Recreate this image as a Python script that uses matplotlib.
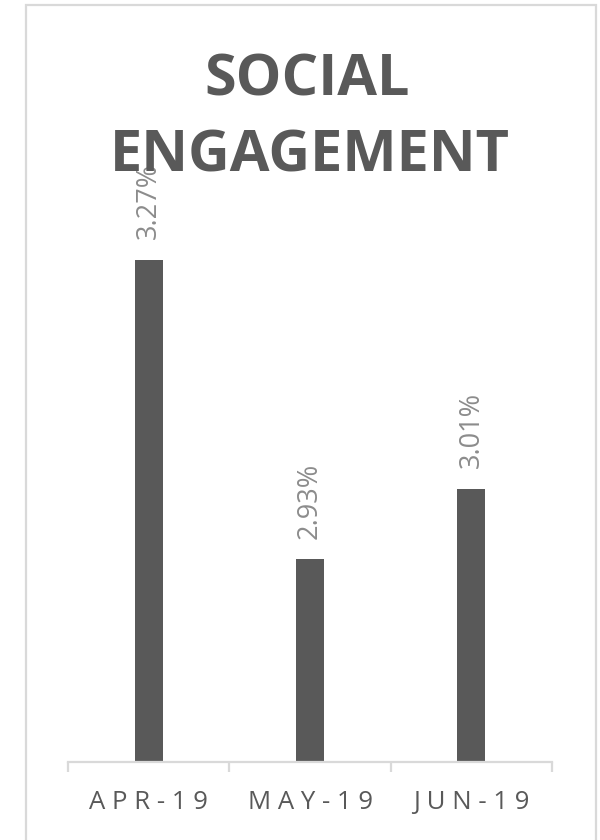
import matplotlib.pyplot as plt
from matplotlib.patches import Rectangle

months = ["APR-19", "MAY-19", "JUN-19"]
engagement = [3.27, 2.93, 3.01]
value_labels = ["3.27%", "2.93%", "3.01%"]

bar_color = "#595959"
label_color = "#8c8c8c"
line_color = "#d9d9d9"

plt.rcParams['font.family'] = ['Open Sans', 'DejaVu Sans']

fig = plt.figure(figsize=(6, 8.4), dpi=100)
fig.patch.set_facecolor("white")

# outer chart border (bottom edge runs past the image)
fig.patches.append(Rectangle((26 / 600, -0.1), 570 / 600, 1.1 - 5 / 840,
                             transform=fig.transFigure, fill=False,
                             edgecolor=line_color, linewidth=1.6))

ax = fig.add_axes([68 / 600, 78 / 840, 484 / 600, 528.5 / 840])
x = list(range(len(months)))
bars = ax.bar(x, engagement, width=0.175, color=bar_color)
ax.set_xlim(-0.5, len(months) - 0.5)
ax.set_ylim(2.7, 3.3)

for b, txt in zip(bars, value_labels):
    ax.annotate(txt, (b.get_x() + b.get_width() / 2, b.get_height()),
                xytext=(0, 15), textcoords="offset points",
                rotation=90, ha="center", va="bottom",
                fontsize=19.5, color=label_color, annotation_clip=False)

for s in ["top", "left", "right"]:
    ax.spines[s].set_visible(False)
ax.spines["bottom"].set_color(line_color)
ax.spines["bottom"].set_linewidth(1.6)
ax.set_yticks([])

ax.set_xticks(x)
ax.set_xticklabels([" ".join(m) for m in months], fontsize=18.5, color="#595959")
ax.tick_params(axis="x", which="major", length=0, pad=20)
ax.set_xticks([i - 0.5 for i in range(len(months) + 1)], minor=True)
ax.tick_params(axis="x", which="minor", length=7.5, width=1.6, color=line_color)

fig.text(0.512, 1 - 95 / 840, "SOCIAL", ha="center", va="baseline",
         fontsize=41.5, fontweight="bold", color=bar_color)
fig.text(0.516, 1 - 172 / 840, "ENGAGEMENT", ha="center", va="baseline",
         fontsize=41.5, fontweight="bold", color=bar_color)

fig.savefig("out.png", dpi=100)
